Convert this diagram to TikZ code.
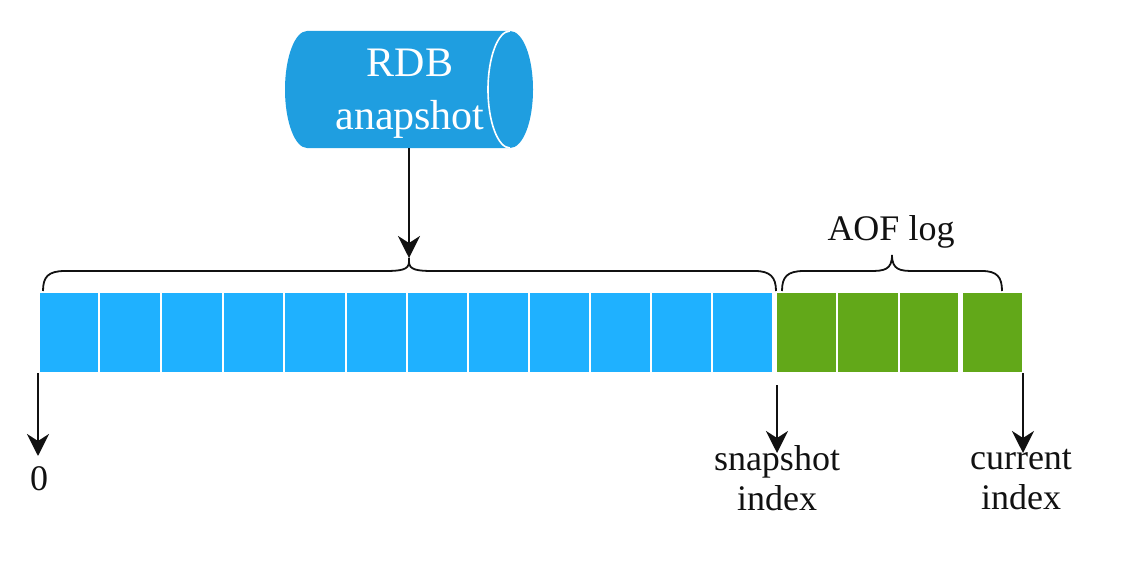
\documentclass[tikz,border=0pt]{standalone}
\usepackage{fontspec}
\setmainfont{Liberation Serif}
\usetikzlibrary{arrows.meta}
\definecolor{cylblue}{HTML}{1F9EE0}
\definecolor{cellblue}{HTML}{1FB1FF}
\definecolor{cellgreen}{HTML}{62A819}
\definecolor{inkc}{HTML}{111111}
\tikzset{
  x=1pt,y=-1pt,
  bluecell/.style={fill=cellblue,draw=none},
  greencell/.style={fill=cellgreen,draw=none},
  arrowline/.style={draw=inkc,line width=2.5pt,-{Stealth[length=22pt,width=22pt,inset=7pt]}},
  bracepath/.style={draw=inkc,line width=1.8pt},
  lbl/.style={font=\fontsize{36pt}{40pt}\selectfont,text=inkc,align=center,inner sep=0pt},
}
\begin{document}
\begin{tikzpicture}
\useasboundingbox (0,0) rectangle (1137,578);
% cylinder
\path[fill=cylblue] (307,31) -- (510,31) .. controls (523,31) and (533,57) .. (533,89.5)
   .. controls (533,122) and (523,148) .. (510,148) -- (307,148)
   .. controls (295,148) and (285,122) .. (285,89.5) .. controls (285,57) and (295,31) .. (307,31) -- cycle;
\draw[white,line width=1.6pt] (510,31) .. controls (498,31) and (488,57) .. (488,89.5)
   .. controls (488,122) and (498,148) .. (510,148);
\node[lbl,text=white,font=\fontsize{42pt}{53pt}\selectfont] (cyltext) at (410,94) {RDB\\anapshot};
\coordinate (cylbottom) at (409,148);
% cells
\foreach \n/\a/\b in {b1/40/98,b2/100/160,b3/162/222,b4/224/283,b5/285/345,b6/347/406,b7/408/467,b8/469/528,b9/530/589,b10/591/650,b11/652/711,b12/713/772}
  \path[bluecell] (\a,293) rectangle (\b,372) node[midway,inner sep=0pt] (\n) {};
\foreach \n/\a/\b in {g1/777/836,g2/838/898,g3/900/958,g4/963/1022}
  \path[greencell] (\a,293) rectangle (\b,372) node[midway,inner sep=0pt] (\n) {};
% braces
\coordinate (btip) at (409,262);
\coordinate (atip) at (892,255);
\draw[bracepath] (43,291) .. controls (43,277) and (48,271) .. (65,271) -- (385,271)
  .. controls (400,271) and (409,270) .. (btip) .. controls (409,270) and (418,271) .. (433,271)
  -- (755,271) .. controls (770,271) and (776,277) .. (776,291);
\draw[bracepath] (782,291) .. controls (782,277) and (787,271) .. (804,271) -- (870,271)
  .. controls (884,271) and (892,270) .. (atip) .. controls (892,270) and (900,271) .. (914,271)
  -- (982,271) .. controls (997,271) and (1002,277) .. (1002,291);
\node[lbl] (aof) at (891,232) {AOF log};
% labels
\node[lbl] (zero) at (39,479) {0};
\node[lbl] (snap) at (777,478) {snapshot\\index};
\node[lbl] (cur) at (1021,480) {current\\index};
\coordinate (a0) at (38,373);
\coordinate (a0e) at (38,456);
\coordinate (a1) at (777,385);
\coordinate (a1e) at (777,453);
\coordinate (a2) at (1023,373);
\coordinate (a2e) at (1023,453);
\coordinate (t0) at (409,258);
\draw[arrowline] (cylbottom) -- (t0);
\draw[draw=inkc,line width=2pt] (t0) -- (btip);
\draw[arrowline] (a0) -- (a0e);
\draw[arrowline] (a1) -- (a1e);
\draw[arrowline] (a2) -- (a2e);
\end{tikzpicture}
\end{document}
